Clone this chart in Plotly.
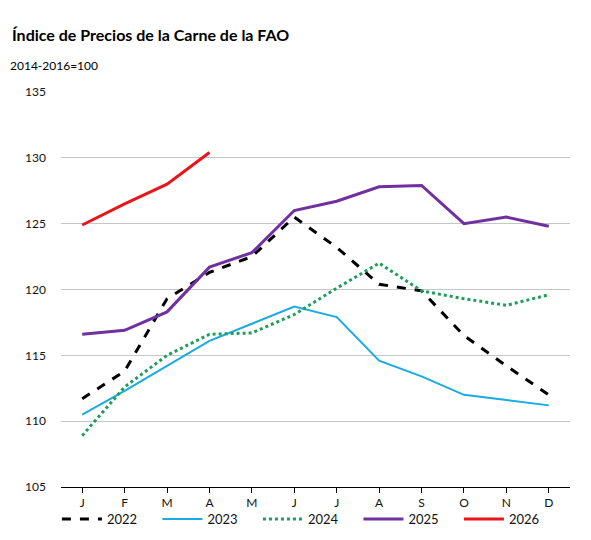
import plotly.graph_objects as go

month_labels = ["J", "F", "M", "A", "M", "J", "J", "A", "S", "O", "N", "D"]
y2022 = [111.7, 113.8, 119.3, 121.3, 122.5, 125.5, 123.2, 120.4, 119.9, 116.5, 114.2, 112.0]
y2023 = [110.5, 112.3, 114.2, 116.1, 117.4, 118.7, 117.9, 114.6, 113.4, 112.0, 111.6, 111.2]
y2024 = [108.9, 112.6, 115.0, 116.6, 116.7, 118.1, 120.1, 122.0, 119.9, 119.3, 118.8, 119.6]
y2025 = [116.6, 116.9, 118.3, 121.7, 122.8, 126.0, 126.7, 127.8, 127.9, 125.0, 125.5, 124.8]
y2026 = [124.9, 126.5, 128.0, 130.4]
yticks = [105, 110, 115, 120, 125, 130, 135]

x = list(range(12))
fig = go.Figure()
series = [
    ("2022", y2022, dict(color="#000000", width=3, dash="dash")),
    ("2023", y2023, dict(color="#1AABE2", width=2)),
    ("2024", y2024, dict(color="#1E9E5A", width=3, dash="dot")),
    ("2025", y2025, dict(color="#7030A0", width=3)),
    ("2026", y2026, dict(color="#E8161B", width=3)),
]
for name, vals, line in series:
    fig.add_trace(go.Scatter(x=x[:len(vals)], y=vals, mode="lines", name=name, line=line))

font = "Lato, 'Open Sans', sans-serif"
fig.update_layout(
    width=591, height=540,
    margin=dict(l=61, r=21, t=92, b=53, autoexpand=False),
    paper_bgcolor="white", plot_bgcolor="white",
    font=dict(family=font, size=12, color="#111"),
    showlegend=True,
    legend=dict(orientation="h", x=-0.008, xanchor="left", y=-(519 - 487) / 395, yanchor="middle",
                entrywidth=45.5, entrywidthmode="pixels", font=dict(size=13, color="#111"),
                itemwidth=40, tracegroupgap=0, bgcolor="rgba(0,0,0,0)"),
    annotations=[
        dict(text="<b>Índice de Precios de la Carne de la FAO</b>", xref="paper", yref="paper",
             x=-51/509, y=1 + (92-34)/395, xanchor="left", yanchor="middle", showarrow=False,
             font=dict(size=16, color="#000", family=font)),
        dict(text="2014-2016=100", xref="paper", yref="paper",
             x=-53/509, y=1 + (92-65)/395, xanchor="left", yanchor="middle", showarrow=False,
             font=dict(size=12, color="#000", family=font)),
    ],
)
fig.update_xaxes(
    tickmode="array", tickvals=x, ticktext=month_labels, range=[-0.5, 11.5],
    showline=True, linecolor="#000", linewidth=1, ticks="outside", ticklen=5,
    tickcolor="#000", showgrid=False, zeroline=False, tickfont=dict(size=12),
)
fig.update_xaxes(tickson="boundaries", type="linear")
fig.update_yaxes(
    range=[105, 135], tickvals=yticks, showgrid=True, gridcolor="#C6C6C6", gridwidth=1,
    zeroline=False, showline=False, ticks="", ticklabelstandoff=14, tickfont=dict(size=12),
)
fig.write_html("out.html")
